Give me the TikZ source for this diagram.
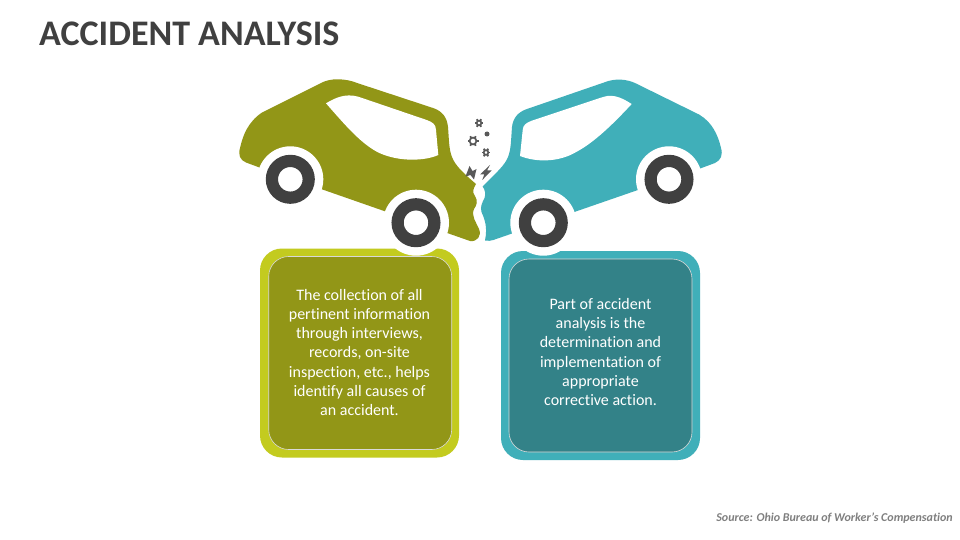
\documentclass[tikz,border=0pt]{standalone}
\usepackage{fontspec}
\setmainfont{Carlito}[Ligatures=NoCommon]
\definecolor{olivecar}{HTML}{929617}
\definecolor{olivelight}{HTML}{C3CB1F}
\definecolor{tealcar}{HTML}{40AFB9}
\definecolor{tealdark}{HTML}{338288}
\definecolor{darkgrey}{HTML}{404040}
\definecolor{sourcegrey}{HTML}{7F7F7F}
\definecolor{debris}{HTML}{595959}
\tikzset{
  outerbox/.style={rounded corners=22pt, inner sep=0pt, minimum width=199pt, minimum height=209pt},
  innerbox/.style={draw=white!70!gray, line width=0.6pt, rounded corners=20pt, inner sep=0pt,
    minimum width=183pt, minimum height=193pt},
  boxtext/.style={text=white, align=center, inner sep=0pt, font=\fontsize{16}{19.3}\selectfont},
  tyre/.style={circle, draw=darkgrey, line width=12.2pt, fill=white, minimum size=36.8pt, inner sep=0pt},
  clearing/.style={circle, fill=white, minimum size=66pt, inner sep=0pt},
  gearicon/.pic={
    \draw[debris, line width=1.7pt] (0,0) circle (#1);
    \foreach \a in {0,60,...,300}
      \draw[debris, line width=1.8pt] (\a:#1) -- (\a:#1+2.1pt);
  }
}
\begin{document}
\begin{tikzpicture}[x=1pt,y=-1pt]
\useasboundingbox (0,0) rectangle (960,540);
\fill[white] (0,0) rectangle (960,540);

\node[anchor=west, inner sep=0pt, text=darkgrey, font=\fontsize{36}{40}\selectfont\bfseries] (title) at (39,34) {ACCIDENT ANALYSIS};
\node[anchor=east, inner sep=0pt, text=sourcegrey, font=\fontsize{12}{14}\selectfont\bfseries\itshape] (source) at (953,518) {Source: Ohio Bureau of Worker’s Compensation};

% text boxes
\node[outerbox, fill=olivelight] (boxleft) at (359.5,353) {};
\node[innerbox, fill=olivecar] (frameleft) at (360.2,353) {};
\node[boxtext] (textleft) at (359.5,352.5)
    {The collection of all\\
    pertinent information\\
    through interviews,\\
    records, on-site\\
    inspection, etc., helps\\
    identify all causes of\\
    an accident.};
\node[outerbox, fill=tealcar] (boxright) at (600.5,355.5) {};
\node[innerbox, fill=tealdark] (frameright) at (600.5,355.5) {};
\node[boxtext] (textright) at (600.5,352)
    {Part of accident\\
    analysis is the\\
    determination and\\
    implementation of\\
    appropriate\\
    corrective action.};

% left car
\fill[olivecar] (260,167.7) -- (246,162.5) .. controls (240,160) and (238,155) .. (240,148)
    .. controls (243,135) and (248,122) .. (262,112.5) -- (321,83)
    .. controls (330,78) and (345,78) .. (358,83.3) -- (433,108)
    .. controls (442,111) and (447,117) .. (448,127)
    .. controls (449,140) and (449,150) .. (452,157)
    .. controls (455,165) and (462,172) .. (476,184)
    .. controls (473,189) and (472,192) .. (475,196)
    .. controls (478,201) and (477,205) .. (474,209)
    .. controls (471,216) and (476,222) .. (479,229)
    .. controls (482,236) and (477,242) .. (470,241) -- (448,233.3) -- cycle;
\fill[white] (326,103.3) .. controls (335,98) and (345,93) .. (358.3,96.7) -- (426.7,120)
    .. controls (432,122) and (436,124) .. (436,130) -- (438.3,155)
    .. controls (425,161) and (400,162) .. (380,153.3)
    .. controls (362,145) and (345,125) .. cycle;
\node[clearing] (clearrearleft) at (290.3,179.3) {};
\node[clearing] (clearfrontleft) at (416,222.7) {};
\node[tyre] (tyrerearleft) at (290.3,179.3) {};
\node[tyre] (tyrefrontleft) at (416,222.7) {};

% right car
\fill[tealcar] (700.7,168.3) -- (715,163) .. controls (721,160) and (723,155) .. (721,148)
    .. controls (718,135) and (712,122) .. (699,114.5) -- (636,83.5)
    .. controls (627,79) and (615,78) .. (604,82.5) -- (527,109)
    .. controls (518,112) and (513,118) .. (512,127)
    .. controls (511,140) and (511,150) .. (508,157)
    .. controls (505,165) and (497,172) .. (482.7,186.5)
    .. controls (485,190) and (486,194) .. (484.5,198)
    .. controls (482,203) and (480,207) .. (481.5,212)
    .. controls (484,218) and (488,226) .. (485,240.5)
    .. controls (488,241) and (491,241) .. (493.3,240) -- cycle;
\fill[white] (631.7,104) .. controls (625,100) and (615,93) .. (603,97) -- (531.7,120.7)
    .. controls (526,123) and (523,125) .. (522.7,130) -- (520,156)
    .. controls (535,162) and (558,163) .. (576.7,151.7)
    .. controls (595,142) and (615,122) .. cycle;
\node[clearing] (clearrearright) at (669,179.3) {};
\node[clearing] (clearfrontright) at (543.3,222.7) {};
\node[tyre] (tyrerearright) at (669,179.3) {};
\node[tyre] (tyrefrontright) at (543.3,222.7) {};

% debris
\pic at (473,141) {gearicon=3.4pt};
\pic at (479,123) {gearicon=2.3pt};
\pic at (486,152.5) {gearicon=2.3pt};
\fill[debris] (487,134) circle (2.5pt);
\fill[debris] (469.5,166) -- (472.5,171) -- (476.5,169) -- (474,179.5) -- (470.5,175) -- (465.5,176.5) -- cycle;
\fill[debris] (490,165) -- (480,174.5) -- (484.2,174.5) -- (482.3,180) -- (491.5,170.5) -- (487,170.5) -- cycle;
\end{tikzpicture}
\end{document}
